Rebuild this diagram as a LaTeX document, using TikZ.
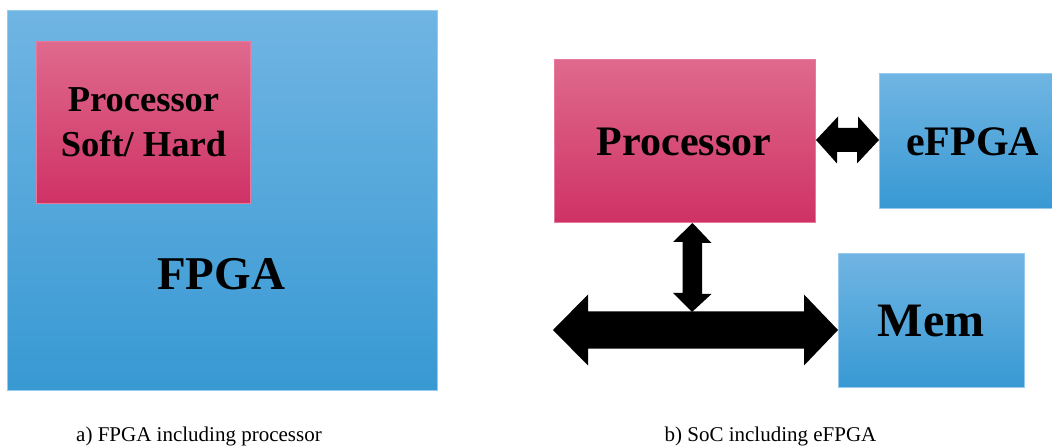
\documentclass[tikz,border=0pt]{standalone}
\usepackage{fontspec}
\setmainfont{Liberation Serif}
\usetikzlibrary{calc}

\definecolor{bluetop}{RGB}{112,181,227}
\definecolor{bluebot}{RGB}{56,153,211}
\definecolor{blueedge}{RGB}{150,202,238}
\definecolor{pinktop}{RGB}{223,106,141}
\definecolor{pinkmid}{RGB}{226,70,118}
\definecolor{pinkbot}{RGB}{207,50,101}
\definecolor{pinkedge}{RGB}{232,120,158}

\tikzset{
  bluebox/.style={draw=blueedge, line width=1pt, top color=bluetop, bottom color=bluebot,
    anchor=north west, inner sep=0pt},
  pinkbox/.style={draw=pinkedge, line width=1pt, top color=pinktop, middle color=pinkmid,
    bottom color=pinkbot, anchor=north west, inner sep=0pt},
  boxtext/.style={font=\bfseries, text=black, inner sep=0pt},
  caption/.style={font=\fontsize{21}{25}\selectfont, inner sep=0pt, anchor=base},
  busarrow/.style={fill=black, draw=none}
}

\begin{document}
\begin{tikzpicture}[x=1pt,y=-1pt]
\useasboundingbox (0,0) rectangle (1052,446);

% ---- a) FPGA with an embedded processor ----
\node[bluebox, minimum width=430pt, minimum height=380pt] (fpga) at (7,10) {};
\node[pinkbox, minimum width=214pt, minimum height=162pt] (softcpu) at (36,41) {};
\node[boxtext, align=center, font=\bfseries\fontsize{36.5}{45}\selectfont]
  (softcpulabel) at (softcpu.center) {Processor\\Soft/ Hard};
\node[boxtext, font=\bfseries\fontsize{47}{56}\selectfont, anchor=base]
  (fpgalabel) at (221,290) {FPGA};

% ---- b) SoC with an embedded FPGA ----
\node[pinkbox, minimum width=261pt, minimum height=163pt] (cpu) at (554,59) {};
\node[boxtext, font=\bfseries\fontsize{42}{50}\selectfont, anchor=base]
  (cpulabel) at (684,156) {Processor};
\node[bluebox, minimum width=190pt, minimum height=135pt] (efpga) at (879,73) {};
\node[boxtext, font=\bfseries\fontsize{42}{50}\selectfont, anchor=base]
  (efpgalabel) at (972.5,156) {eFPGA};
\node[bluebox, minimum width=186pt, minimum height=134pt] (mem) at (838,253) {};
\node[boxtext, font=\bfseries\fontsize{48}{56}\selectfont, anchor=base]
  (memlabel) at (931,337) {Mem};

% bus junction below the processor
\coordinate (busmid) at (692,330);

% processor <-> eFPGA
\fill[busarrow]
  ($(cpu.east)+(0,-1)$) -- ++(22,-23.5) -- ++(0,11.5) -- ++(20,0) -- ++(0,-11.5)
  -- ($(efpga.west)+(0,-1)$) -- ++(-22,23.5) -- ++(0,-11.5) -- ++(-20,0) -- ++(0,11.5) -- cycle;

% processor <-> bus
\fill[busarrow]
  ($(cpu.south)+(7.5,0)$) -- ++(19,20) -- ++(-9.5,0) -- ++(0,51) -- ++(9.5,0)
  -- ($(busmid)+(0,-18)$) -- ++(-19,-19) -- ++(9.5,0) -- ++(0,-51) -- ++(-9.5,0) -- cycle;

% system bus <-> memory
\fill[busarrow]
  (553,330) -- ++(35,-35.5) -- ++(0,17) -- ++(216,0) -- ++(0,-17)
  -- (mem.west |- busmid) -- ++(-34,35.5) -- ++(0,-17) -- ++(-216,0) -- ++(0,17) -- cycle;

% ---- captions ----
\node[caption] (capa) at (199,441) {a) FPGA including processor};
\node[caption] (capb) at (770.5,441) {b) SoC including eFPGA};
\end{tikzpicture}
\end{document}
